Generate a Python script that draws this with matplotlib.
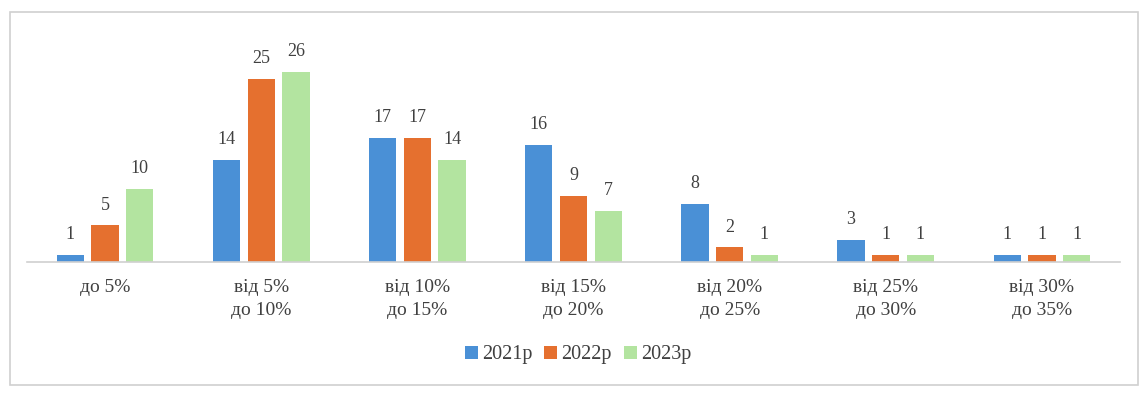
import matplotlib
matplotlib.use("Agg")
import matplotlib.pyplot as plt
import numpy as np
from matplotlib.patches import Rectangle

categories = ["до 5%", "від 5%\nдо 10%", "від 10%\nдо 15%", "від 15%\nдо 20%",
              "від 20%\nдо 25%", "від 25%\nдо 30%", "від 30%\nдо 35%"]
series_names = ["2021р", "2022р", "2023р"]
v2021 = [1, 14, 17, 16, 8, 3, 1]
v2022 = [5, 25, 17, 9, 2, 1, 1]
v2023 = [10, 26, 14, 7, 1, 1, 1]
colors = ["#4a90d6", "#e5702f", "#b3e4a0"]

plt.rcParams["font.family"] = ["Liberation Serif", "DejaVu Serif"]
text_color = "#404040"

fig = plt.figure(figsize=(11.47, 3.97), dpi=100)
fig.patches.append(Rectangle((10 / 1147, 12 / 397), 1128 / 1147, 373 / 397,
                             transform=fig.transFigure, fill=False,
                             edgecolor="#d0d0d0", linewidth=1.2))

ax = fig.add_axes([27 / 1147, 135 / 397, 1093 / 1147, 242 / 397])
x = np.arange(len(categories))
width = 0.175
offset = 0.222
for i, (vals, name) in enumerate(zip([v2021, v2022, v2023], series_names)):
    bars = ax.bar(x + (i - 1) * offset, vals, width, color=colors[i], label=name)
    for b, v in zip(bars, vals):
        ax.annotate(str(v), (b.get_x() + b.get_width() / 2, b.get_height()),
                    xytext=(0, 8.5), textcoords="offset points",
                    ha="center", va="bottom", fontsize=13, color=text_color)

ax.set_xlim(-0.5, len(categories) - 0.5)
ax.set_ylim(0, 33.1)
ax.set_xticks(x)
ax.set_xticklabels(categories, fontsize=14, color=text_color, linespacing=1.45)
ax.tick_params(axis="x", length=0, pad=12)
ax.set_yticks([])
for s in ["top", "right", "left"]:
    ax.spines[s].set_visible(False)
ax.spines["bottom"].set_color("#d0d0d0")
ax.spines["bottom"].set_linewidth(1.2)

leg = fig.legend(loc="center", bbox_to_anchor=(578 / 1147, 1 - 355 / 397),
                 ncol=3, frameon=False, fontsize=14.5, handlelength=0.65,
                 handleheight=0.65, handletextpad=0.2, columnspacing=0.6)
for t in leg.get_texts():
    t.set_color(text_color)

fig.savefig("out.png", dpi=100)
